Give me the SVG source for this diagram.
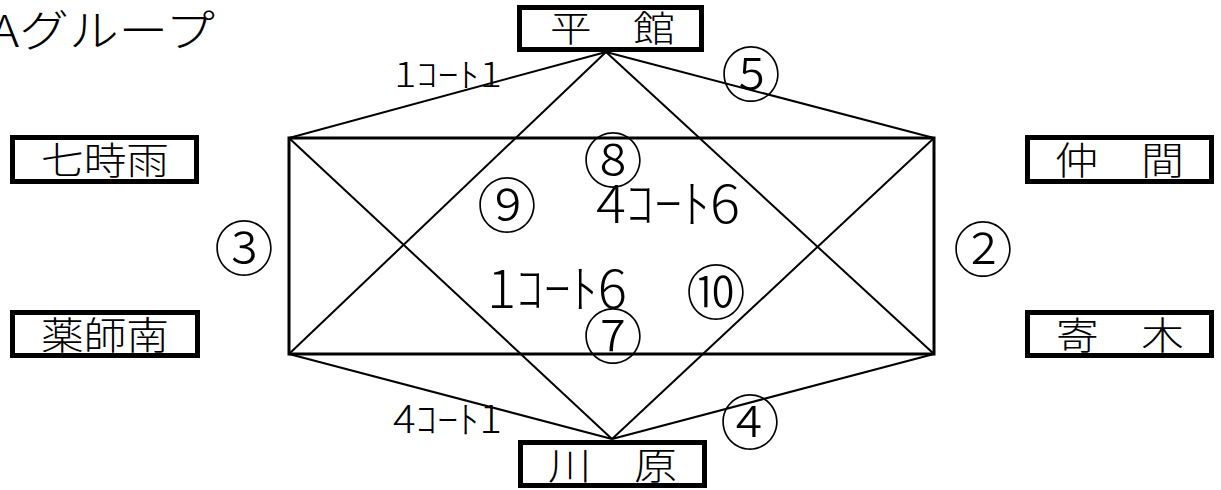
<svg xmlns="http://www.w3.org/2000/svg" width="1221" height="490" viewBox="0 0 1221 490">
<style>
.t{font-family:"Noto Sans CJK JP","Noto Sans CJK SC",sans-serif;font-weight:300;fill:#000}
.box{fill:#fff;stroke:#000;stroke-width:5}
.ln{stroke:#000;stroke-width:2;fill:none}
.c{text-anchor:middle;dominant-baseline:central;font-size:60px}
</style>
<rect width="1221" height="490" fill="#fff"/>
<text class="t" x="-10" y="47" font-size="44" textLength="225" lengthAdjust="spacingAndGlyphs">Aグループ</text>
<g id="connectors">
<rect x="289" y="138" width="645" height="216" fill="none" stroke="#000" stroke-width="3"/>
<line class="ln" x1="606" y1="52" x2="289" y2="138"/>
<line class="ln" x1="606" y1="52" x2="934" y2="138"/>
<line class="ln" x1="606" y1="52" x2="289" y2="354"/>
<line class="ln" x1="606" y1="52" x2="934" y2="354"/>
<line class="ln" x1="612" y1="439" x2="289" y2="354"/>
<line class="ln" x1="612" y1="439" x2="934" y2="354"/>
<line class="ln" x1="612" y1="439" x2="289" y2="138"/>
<line class="ln" x1="612" y1="439" x2="934" y2="138"/>
</g>
<g id="labels">
<text class="t" x="394" y="87" font-size="34" textLength="108" lengthAdjust="spacingAndGlyphs">1ｺｰﾄ1</text>
<text class="t" x="393" y="433" font-size="38" textLength="109" lengthAdjust="spacingAndGlyphs">4ｺｰﾄ1</text>
<text class="t" x="596" y="223" font-size="52" textLength="144" lengthAdjust="spacingAndGlyphs">4ｺｰﾄ6</text>
<text class="t" x="487" y="308" font-size="52" textLength="140" lengthAdjust="spacingAndGlyphs">1ｺｰﾄ6</text>
<text class="t c" x="751" y="70">⑤</text>
<text class="t c" x="613" y="156">⑧</text>
<text class="t c" x="507" y="201">⑨</text>
<text class="t c" x="716" y="288">⑩</text>
<text class="t c" x="613" y="332">⑦</text>
<text class="t c" x="244" y="244">③</text>
<text class="t c" x="983" y="245">②</text>
<text class="t c" x="750" y="418">④</text>
</g>
<g id="hiradate">
<rect class="box" x="519.5" y="7.5" width="182" height="42"/>
<text class="t" x="550" y="42" font-size="36" textLength="125" lengthAdjust="spacingAndGlyphs">平　館</text>
</g>
<g id="nanashigure">
<rect class="box" x="12.5" y="137.5" width="184" height="44"/>
<text class="t" x="41" y="174" font-size="38" textLength="128" lengthAdjust="spacingAndGlyphs">七時雨</text>
</g>
<g id="naka">
<rect class="box" x="1027.5" y="137.5" width="184" height="44"/>
<text class="t" x="1055" y="174" font-size="38" textLength="129" lengthAdjust="spacingAndGlyphs">仲　間</text>
</g>
<g id="yakushiminami">
<rect class="box" x="12.5" y="312.5" width="185" height="43"/>
<text class="t" x="41" y="349" font-size="38" textLength="128" lengthAdjust="spacingAndGlyphs">薬師南</text>
</g>
<g id="yosegi">
<rect class="box" x="1027.5" y="312.5" width="184" height="43"/>
<text class="t" x="1056" y="349" font-size="38" textLength="128" lengthAdjust="spacingAndGlyphs">寄　木</text>
</g>
<g id="kawara">
<rect class="box" x="520.5" y="442.5" width="184" height="43"/>
<text class="t" x="548" y="479" font-size="38" textLength="129" lengthAdjust="spacingAndGlyphs">川　原</text>
</g>
</svg>
